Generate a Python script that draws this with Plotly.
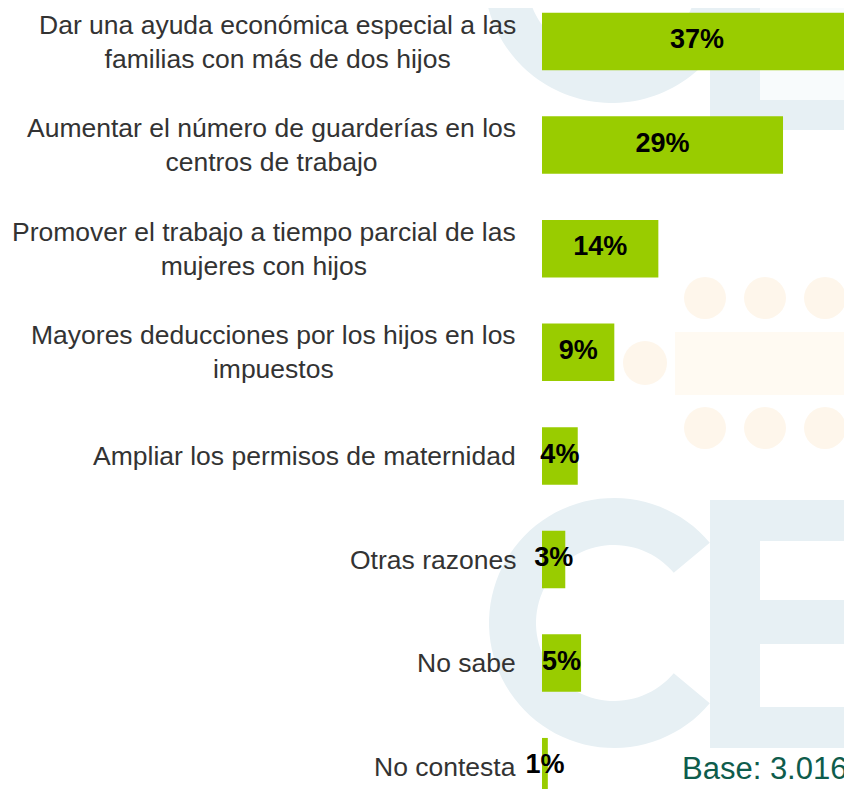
import numpy as np
import plotly.graph_objects as go

# ---------------- data ----------------
categories = [
    "Dar una ayuda económica especial a las<br>familias con más de dos hijos",
    "Aumentar el número de guarderías en los<br>centros de trabajo",
    "Promover el trabajo a tiempo parcial de las<br>mujeres con hijos",
    "Mayores deducciones por los hijos en los<br>impuestos",
    "Ampliar los permisos de maternidad",
    "Otras razones",
    "No sabe",
    "No contesta",
]
# bar lengths (unrounded), and the printed labels
values = [37.3, 29.0, 14.0, 8.7, 4.3, 2.8, 4.7, 0.7]
value_labels = ["37%", "29%", "14%", "9%", "4%", "3%", "5%", "1%"]
base_text = "Base: 3.016"

# ---------------- layout helpers ----------------
OFF = 8                 # page body margin
PAGE_W, PAGE_H = 852, 789
W, H = PAGE_W - OFF, PAGE_H - OFF
L = 542                 # plot-area left edge in page pixels
BAR_COLOR = "#99CC00"
LABEL_COLOR = "#333333"
WM_BLUE = "#E7F0F4"
WM_ORANGE = "#FEF6EB"


def px(x):
    return (x - L) / (PAGE_W - L)


def py(y):
    return (PAGE_H - y) / (PAGE_H - OFF)


def ring_path(cx, cy, r_out, r_in, a0, a1, n=80):
    t = np.radians(np.linspace(a0, a1, n))
    outer = [(px(cx + r_out * np.cos(a)), py(cy - r_out * np.sin(a))) for a in t]
    inner = [(px(cx + r_in * np.cos(a)), py(cy - r_in * np.sin(a))) for a in t[::-1]]
    pts = outer + inner
    return "M " + " L ".join(f"{x:.5f},{y:.5f}" for x, y in pts) + " Z"


def rect(x0, y0, x1, y1, color):
    return dict(type="rect", xref="paper", yref="paper", layer="below",
                x0=px(x0), x1=px(x1), y0=py(y1), y1=py(y0),
                fillcolor=color, line=dict(width=0))


def circle(cx, cy, r, color):
    return dict(type="circle", xref="paper", yref="paper", layer="below",
                x0=px(cx - r), x1=px(cx + r), y0=py(cy + r), y1=py(cy - r),
                fillcolor=color, line=dict(width=0))


shapes = []
# top watermark pieces
shapes.append(dict(type="path", xref="paper", yref="paper", layer="below",
                   path=ring_path(612, -25, 128, 86, 180, 360),
                   fillcolor=WM_BLUE, line=dict(width=0)))
shapes.append(rect(710, 8, 852, 130, WM_BLUE))
shapes.append(rect(760, 8, 852, 100, "#F8FBFC"))
# orange circles / band
for cy in (298, 428):
    for cx in (705, 765, 825):
        shapes.append(circle(cx, cy, 21, WM_ORANGE))
shapes.append(circle(645, 363, 22, WM_ORANGE))
shapes.append(rect(675, 332, 852, 395, "#FFFAF2"))
# big C
shapes.append(dict(type="path", xref="paper", yref="paper", layer="below",
                   path=ring_path(614, 623, 125, 78, 40, 320),
                   fillcolor=WM_BLUE, line=dict(width=0)))
# E
shapes.append(rect(710, 500, 852, 748, WM_BLUE))
shapes.append(rect(760, 541, 852, 600, "#FFFFFF"))
shapes.append(rect(760, 644, 852, 707, "#FFFFFF"))

# ---------------- figure ----------------
ypos = list(range(len(categories)))

fig = go.Figure()
fig.add_trace(go.Bar(
    x=values, y=ypos, orientation="h", width=0.555,
    marker=dict(color=BAR_COLOR, line=dict(width=0)),
    hoverinfo="skip",
))
fig.add_trace(go.Scatter(
    x=[v / 2 for v in values], y=ypos, mode="text",
    text=value_labels, textposition="middle center",
    textfont=dict(family="Liberation Sans, Arial, sans-serif", size=27, color="#000000"),
    texttemplate="<b>%{text}</b>",
    cliponaxis=False, hoverinfo="skip",
))

annotations = []
for i, c in enumerate(categories):
    annotations.append(dict(
        xref="paper", yref="y", x=0, y=i, xanchor="right", yanchor="middle",
        xshift=-24, text=c, showarrow=False, align="center",
        font=dict(family="Liberation Sans, Arial, sans-serif", size=26.5, color=LABEL_COLOR),
    ))
annotations.append(dict(
    xref="paper", yref="paper", x=1, y=0, xanchor="right", yanchor="bottom",
    xshift=-3, yshift=1, text=base_text, showarrow=False,
    font=dict(family="Liberation Sans, Arial, sans-serif", size=31, color="#0E5C4C"),
))

# y range: bar i centred at page y = 41.5 + 103.6*i; plot spans page y 8..789
y_top = (OFF - 41.5) / 103.6
y_bot = (PAGE_H - 41.5) / 103.6

fig.update_layout(
    width=W, height=H,
    margin=dict(l=L - OFF, r=0, t=0, b=0, pad=0),
    paper_bgcolor="#FFFFFF", plot_bgcolor="rgba(0,0,0,0)",
    showlegend=False, hovermode=False,
    shapes=shapes, annotations=annotations,
    xaxis=dict(range=[0, 37.3], visible=False, fixedrange=True),
    yaxis=dict(range=[y_bot, y_top], visible=False, fixedrange=True),
)

fig.write_html("out.html")
